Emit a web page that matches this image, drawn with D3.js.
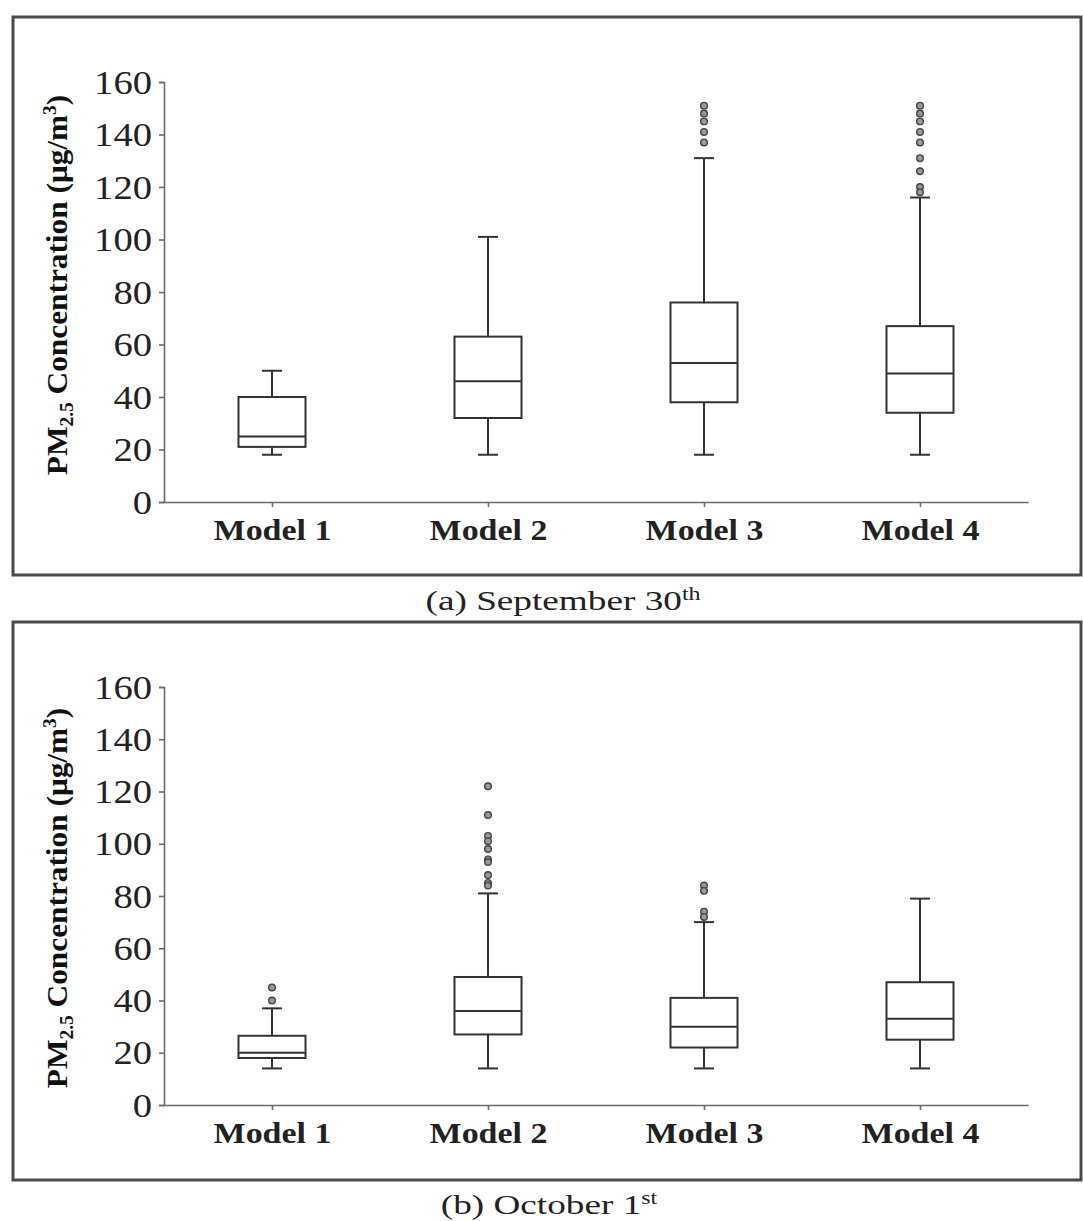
<!DOCTYPE html>
<html>
<head>
<meta charset="utf-8">
<script src="https://cdn.jsdelivr.net/npm/d3@7"></script>
<style>
  body { margin: 0; background: #fff; }
  svg { display: block; }
  .axis path, .axis line { stroke: #6a6a6a; stroke-width: 1.6; }
  .axis text { fill: #222; }
</style>
</head>
<body>
<svg id="chart" width="1083" height="1221"></svg>
<script>
'use strict';

let models = ["Model 1", "Model 2", "Model 3", "Model 4"];
let yTicks = [0, 20, 40, 60, 80, 100, 120, 140, 160];

// (a) September 30th
let sepLow = [18, 18, 18, 18];
let sepQ1 = [21, 32, 38, 34];
let sepMedian = [25, 46, 53, 49];
let sepQ3 = [40, 63, 76, 67];
let sepHigh = [50, 101, 131, 116];
let sepOutliers = [
    [],
    [],
    [151, 148, 145, 141, 137],
    [151, 148, 145, 141, 137, 131, 126, 120, 118]
];

// (b) October 1st
let octLow = [14, 14, 14, 14];
let octQ1 = [18, 27, 22, 25];
let octMedian = [20, 36, 30, 33];
let octQ3 = [26.5, 49, 41, 47];
let octHigh = [37, 81, 70, 79];
let octOutliers = [
    [45, 40],
    [122, 111, 103, 101, 98, 94, 93, 88, 85, 84],
    [84, 82, 74, 72],
    []
];

function buildRows(low, q1, med, q3, high, outs) {
    return models.map((m, i) => ({
        model: m, low: low[i], q1: q1[i], median: med[i], q3: q3[i], high: high[i], outliers: outs[i]
    }));
}

let panels = [
    { top: 17, bottom: 575, axisTop: 82, axisBottom: 502, labelShift: -7,
      caption: ["(a) September 30", "th"], captionX: 563, captionY: 610, captionScale: 1.33,
      rows: buildRows(sepLow, sepQ1, sepMedian, sepQ3, sepHigh, sepOutliers) },
    { top: 622, bottom: 1180, axisTop: 687, axisBottom: 1105, labelShift: 2,
      caption: ["(b) October 1", "st"], captionX: 549, captionY: 1214, captionScale: 1.33,
      rows: buildRows(octLow, octQ1, octMedian, octQ3, octHigh, octOutliers) }
];

let svg = d3.select("#chart");
let serif = "'Liberation Serif', 'Times New Roman', serif";

function drawPanel(p) {
    let left = 164, right = 1028;

    // frame
    svg.append("rect")
        .attr("x", 13).attr("y", p.top)
        .attr("width", 1068).attr("height", p.bottom - p.top)
        .attr("fill", "none")
        .attr("stroke", "#4a4a4a")
        .attr("stroke-width", 3);

    let x = d3.scalePoint().domain(models).range([left, right]).padding(0.5);
    let y = d3.scaleLinear().domain([0, 160]).range([p.axisBottom, p.axisTop]);

    let g = svg.append("g");

    // y axis, labels stretched a bit wider like the original
    let tickStretch = 1.17;
    let yAxis = d3.axisLeft(y).tickValues(yTicks).tickSize(5).tickPadding(7).tickSizeOuter(5);
    g.append("g")
        .attr("class", "axis")
        .attr("transform", "translate(" + left + ",0)")
        .call(yAxis)
        .selectAll("text")
        .style("font-family", serif)
        .style("font-size", "33px")
        .attr("dy", "0.34em")
        .attr("x", -12 / tickStretch)
        .attr("transform", "scale(" + tickStretch + ",1)");

    let modelStretch = 1.17;
    let xAxis = d3.axisBottom(x).tickSize(5).tickSizeOuter(0).tickPadding(12);
    g.append("g")
        .attr("class", "axis")
        .attr("transform", "translate(0," + p.axisBottom + ")")
        .call(xAxis)
        .selectAll("text")
        .style("font-family", serif)
        .style("font-size", "29px")
        .style("font-weight", "bold")
        .attr("dy", "0.71em")
        .attr("transform", "scale(" + modelStretch + ",1)");

    // y label
    let label = g.append("text")
        .attr("transform", "translate(67," + ((p.axisTop + p.axisBottom) / 2 + p.labelShift) + ") rotate(-90) scale(1.08,1)")
        .attr("text-anchor", "middle")
        .style("font-family", serif)
        .style("font-size", "29px")
        .style("font-weight", "bold")
        .attr("fill", "#111");
    label.append("tspan").text("PM");
    label.append("tspan").text("2.5").attr("font-size", "18px").attr("dy", "6");
    label.append("tspan").text(" Concentration (μg/m").attr("dy", "-6");
    label.append("tspan").text("3").attr("font-size", "18px").attr("dy", "-11");
    label.append("tspan").text(")").attr("dy", "11");

    let boxW = 67, capW = 20;
    let boxes = g.selectAll(".box").data(p.rows).enter().append("g")
        .attr("class", "box")
        .attr("transform", d => "translate(" + x(d.model) + ",0)");

    let stroke = "#333", sw = 2;

    boxes.append("line")
        .attr("x1", 0).attr("x2", 0)
        .attr("y1", d => y(d.high)).attr("y2", d => y(d.q3))
        .attr("stroke", stroke).attr("stroke-width", sw);
    boxes.append("line")
        .attr("x1", 0).attr("x2", 0)
        .attr("y1", d => y(d.q1)).attr("y2", d => y(d.low))
        .attr("stroke", stroke).attr("stroke-width", sw);
    boxes.append("line")
        .attr("x1", -capW / 2).attr("x2", capW / 2)
        .attr("y1", d => y(d.high)).attr("y2", d => y(d.high))
        .attr("stroke", stroke).attr("stroke-width", sw);
    boxes.append("line")
        .attr("x1", -capW / 2).attr("x2", capW / 2)
        .attr("y1", d => y(d.low)).attr("y2", d => y(d.low))
        .attr("stroke", stroke).attr("stroke-width", sw);
    boxes.append("rect")
        .attr("x", -boxW / 2).attr("width", boxW)
        .attr("y", d => y(d.q3)).attr("height", d => y(d.q1) - y(d.q3))
        .attr("fill", "#fff")
        .attr("stroke", stroke).attr("stroke-width", sw);
    boxes.append("line")
        .attr("x1", -boxW / 2).attr("x2", boxW / 2)
        .attr("y1", d => y(d.median)).attr("y2", d => y(d.median))
        .attr("stroke", stroke).attr("stroke-width", sw);

    boxes.selectAll(".out").data(d => d.outliers).enter().append("circle")
        .attr("class", "out")
        .attr("cx", 0).attr("cy", v => y(v))
        .attr("r", 3.3)
        .attr("fill", "#999")
        .attr("stroke", "#444")
        .attr("stroke-width", 1.4);

    // caption
    let cap = svg.append("text")
        .attr("transform", "translate(" + p.captionX + "," + p.captionY + ") scale(" + p.captionScale + ",1)")
        .attr("text-anchor", "middle")
        .style("font-family", serif)
        .style("font-size", "28px")
        .attr("fill", "#222");
    cap.append("tspan").text(p.caption[0]);
    cap.append("tspan").text(p.caption[1]).attr("font-size", "18px").attr("dy", "-10");
}

panels.forEach(drawPanel);
</script>
</body>
</html>
